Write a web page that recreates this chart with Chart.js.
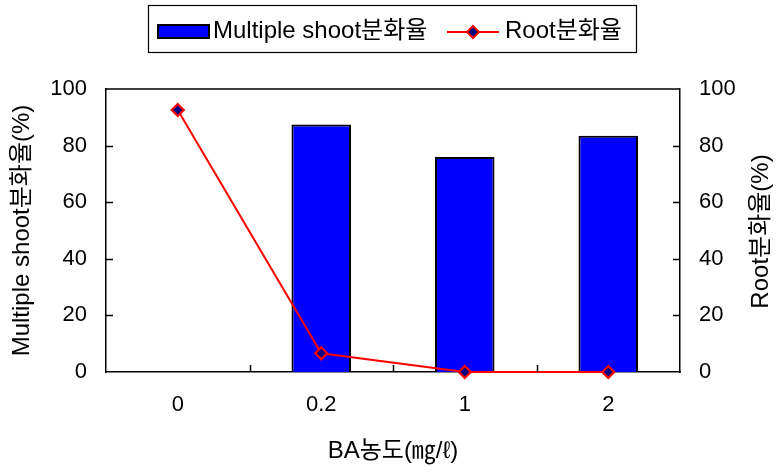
<!DOCTYPE html>
<html><head><meta charset="utf-8">
<script src="https://cdn.jsdelivr.net/npm/chart.js@4/dist/chart.umd.min.js"></script>
<style>html,body{margin:0;padding:0;background:#fff}#wrap{width:776px;height:467px}</style>
</head><body><div id="wrap"><canvas id="c" width="776" height="467"></canvas></div>
<script>
const categories = ['0', '0.2', '1', '2'];
const shootValues = [null, 87.5, 76.0, 83.5];
const rootValues = [92.6, 6.6, 0, 0];
const yTicks = [0, 20, 40, 60, 80, 100];
const shootLabel = 'Multiple shoot분화율';
const rootLabel = 'Root분화율';
const leftTitle = 'Multiple shoot분화율(%)';
const rightTitle = 'Root분화율(%)';
const xTitle = 'BA농도(㎎/ℓ)';

const FONT = "'Liberation Sans', Arial, 'Noto Sans CJK KR', sans-serif";
const tickFont = {family: FONT, size: 22};
const titleFont = {family: FONT, size: 24};

const framePlugin = {
  id: 'frame',
  afterDatasetsDraw(chart) {
    const {ctx, chartArea: a, scales} = chart;
    ctx.save();
    ctx.strokeStyle = '#000';
    ctx.lineWidth = 1.5;
    ctx.beginPath();
    ctx.moveTo(a.left, a.top); ctx.lineTo(a.right, a.top);
    const tl = 7;
    scales.y.ticks.forEach(t => {
      if (t.value <= 0 || t.value >= 100) return;
      const p = Math.round(scales.y.getPixelForValue(t.value)) + 0.5;
      ctx.moveTo(a.left, p); ctx.lineTo(a.left + tl, p);
    });
    scales.y2.ticks.forEach(t => {
      if (t.value <= 0 || t.value >= 100) return;
      const p = Math.round(scales.y2.getPixelForValue(t.value)) + 0.5;
      ctx.moveTo(a.right, p); ctx.lineTo(a.right - tl, p);
    });
    for (let i = 1; i < categories.length; i++) {
      const p = Math.round((scales.x.getPixelForValue(i - 1) + scales.x.getPixelForValue(i)) / 2) + 0.5;
      ctx.moveTo(p, a.bottom); ctx.lineTo(p, a.bottom - tl);
    }
    ctx.stroke();
    ctx.restore();
  },
  afterDraw(chart) {
    const {ctx, chartArea: a} = chart;
    ctx.save();
    // right axis title, reading bottom-to-top
    ctx.font = '24px ' + FONT;
    ctx.fillStyle = '#000';
    ctx.textAlign = 'center';
    ctx.textBaseline = 'middle';
    ctx.translate(761, (a.top + a.bottom) / 2 + 1);
    ctx.rotate(-Math.PI / 2);
    ctx.fillText(rightTitle, 0, 0);
    ctx.restore();

    ctx.save();
    // legend box
    ctx.strokeStyle = '#000';
    ctx.lineWidth = 1.2;
    ctx.strokeRect(148.5, 5.5, 488, 47);
    // bar swatch
    ctx.fillStyle = '#0000FF';
    ctx.fillRect(158, 25, 51, 13);
    ctx.lineWidth = 2;
    ctx.strokeRect(158, 25, 51, 13);
    ctx.font = '24px ' + FONT;
    ctx.fillStyle = '#000';
    ctx.textBaseline = 'middle';
    ctx.textAlign = 'left';
    ctx.fillText(shootLabel, 213, 31);
    // line swatch
    ctx.strokeStyle = '#FF0000';
    ctx.lineWidth = 2;
    ctx.beginPath(); ctx.moveTo(447, 32); ctx.lineTo(499, 32); ctx.stroke();
    ctx.beginPath();
    ctx.moveTo(473, 26); ctx.lineTo(479, 32); ctx.lineTo(473, 38); ctx.lineTo(467, 32); ctx.closePath();
    ctx.fillStyle = '#000080'; ctx.fill(); ctx.stroke();
    ctx.fillStyle = '#000';
    ctx.fillText(rootLabel, 505, 31);
    ctx.restore();
  }
};

new Chart(document.getElementById('c'), {
  data: {
    labels: categories,
    datasets: [
      {
        type: 'line', label: rootLabel, data: rootValues, yAxisID: 'y2', order: 0,
        borderColor: '#FF0000', borderWidth: 2, tension: 0, clip: 8,
        pointStyle: 'rectRot', pointRadius: 6, pointBorderWidth: 2.2,
        pointBackgroundColor: '#000080', pointBorderColor: '#FF0000'
      },
      {
        type: 'bar', label: shootLabel, data: shootValues, yAxisID: 'y', order: 1,
        backgroundColor: '#0000FF', borderColor: '#000', borderWidth: 2,
        categoryPercentage: 1, barPercentage: 0.415
      }
    ]
  },
  options: {
    responsive: false, animation: false, devicePixelRatio: 1,
    layout: {padding: {top: 89, left: 0, right: 0, bottom: 0}},
    plugins: {legend: {display: false}, tooltip: {enabled: false}},
    scales: {
      x: {
        offset: true,
        grid: {display: false, drawTicks: false},
        border: {display: true, color: '#000', width: 1.5},
        ticks: {font: tickFont, color: '#000', padding: 20, maxRotation: 0},
        title: {display: true, text: xTitle, font: titleFont, color: '#000', padding: {top: 0, bottom: 1}},
        afterFit(s) { s.height = 95; }
      },
      y: {
        position: 'left', min: 0, max: 100,
        afterBuildTicks(s) { s.ticks = yTicks.map(v => ({value: v})); },
        grid: {display: false, drawTicks: false},
        border: {display: true, color: '#000', width: 1.5},
        ticks: {font: tickFont, color: '#000', padding: 19},
        title: {display: true, text: leftTitle, font: titleFont, color: '#000', padding: {top: 8, bottom: 0}},
        afterFit(s) { s.width = 106; }
      },
      y2: {
        position: 'right', min: 0, max: 100,
        afterBuildTicks(s) { s.ticks = yTicks.map(v => ({value: v})); },
        grid: {display: false, drawTicks: false},
        border: {display: true, color: '#000', width: 1.5},
        ticks: {font: tickFont, color: '#000', padding: 19},
        title: {display: false},
        afterFit(s) { s.width = 96; }
      }
    }
  },
  plugins: [framePlugin]
});
</script>
</body></html>
